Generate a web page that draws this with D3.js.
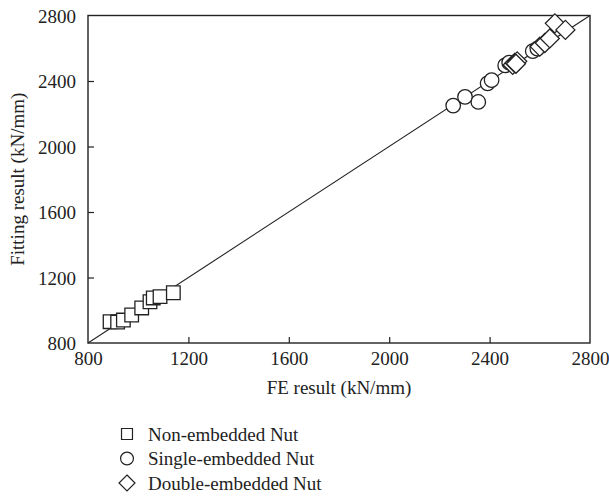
<!DOCTYPE html>
<html>
<head>
<meta charset="utf-8">
<script src="https://cdn.jsdelivr.net/npm/d3@7"></script>
<style>
  body { margin: 0; background: #fff; }
  svg text { font-family: "Liberation Serif", "DejaVu Serif", serif; fill: #222; }
</style>
</head>
<body>
<div id="chart"></div>
<script>
// FE result vs fitting result (kN/mm)
const seriesNames = ['Non-embedded Nut', 'Single-embedded Nut', 'Double-embedded Nut'];
const ticks = [800, 1200, 1600, 2000, 2400, 2800];

const nonEmbedded = [
  [888, 930], [918, 928], [941, 940], [974, 971], [1014, 1014],
  [1047, 1052], [1060, 1075], [1087, 1083], [1140, 1107]
];
const singleEmbedded = [
  [2255, 2250], [2302, 2303], [2355, 2272], [2392, 2386], [2408, 2405],
  [2462, 2495], [2478, 2512], [2498, 2500], [2572, 2582], [2590, 2598]
];
const doubleEmbedded = [
  [2492, 2498], [2500, 2510], [2510, 2520], [2505, 2505],
  [2600, 2610], [2620, 2632], [2640, 2660], [2660, 2752], [2702, 2712]
];

const width = 609, height = 498;
const margin = { top: 15.5, right: 19, bottom: 155, left: 88 };
const w = width - margin.left - margin.right;
const h = height - margin.top - margin.bottom;

const svg = d3.select('#chart').append('svg')
  .attr('width', width)
  .attr('height', height);

const g = svg.append('g')
  .attr('transform', `translate(${margin.left}, ${margin.top})`);

const x = d3.scaleLinear().domain([800, 2800]).range([0, w]);
const y = d3.scaleLinear().domain([800, 2800]).range([h, 0]);

const stroke = '#222';
const fontSize = '19px';

// axes with inward ticks
const xAxis = g.append('g')
  .attr('transform', `translate(0, ${h})`)
  .call(d3.axisBottom(x).tickValues(ticks).tickSize(-6).tickPadding(9).tickFormat(d3.format('d')));
const yAxis = g.append('g')
  .call(d3.axisLeft(y).tickValues(ticks).tickSize(-6).tickPadding(12).tickFormat(d3.format('d')));

[xAxis, yAxis].forEach(a => {
  a.select('.domain').remove();
  a.selectAll('line').attr('stroke', stroke).attr('stroke-width', 1.2);
  a.selectAll('text').style('font-size', fontSize).attr('fill', '#222');
});
// no tick marks at the corners
xAxis.selectAll('.tick').filter(d => d === 800 || d === 2800).select('line').remove();
yAxis.selectAll('.tick').filter(d => d === 800 || d === 2800).select('line').remove();
yAxis.selectAll('text').attr('dy', '0.35em');

g.append('rect')
  .attr('width', w).attr('height', h)
  .attr('fill', 'none').attr('stroke', stroke).attr('stroke-width', 1.4);

// 1:1 line
g.append('line')
  .attr('x1', x(800)).attr('y1', y(800))
  .attr('x2', x(2800)).attr('y2', y(2800))
  .attr('stroke', stroke).attr('stroke-width', 1.1);

// square rotated by 45 degrees
const diamond = r => `M0,${-r}L${r},0L0,${r}L${-r},0Z`;

const sym = {
  square: d3.symbol().type(d3.symbolSquare).size(185)(),
  circle: d3.symbol().type(d3.symbolCircle).size(165)(),
  diamond: diamond(9.5)
};

function drawSeries(data, path) {
  g.append('g').selectAll('path')
    .data(data)
    .join('path')
    .attr('d', path)
    .attr('transform', d => `translate(${x(d[0])}, ${y(d[1])})`)
    .attr('fill', '#fff')
    .attr('stroke', stroke)
    .attr('stroke-width', 1.3);
}

drawSeries(nonEmbedded, sym.square);
drawSeries(singleEmbedded, sym.circle);
drawSeries(doubleEmbedded, sym.diamond);

// axis titles
svg.append('text')
  .attr('x', margin.left + w / 2)
  .attr('y', 394)
  .attr('text-anchor', 'middle')
  .style('font-size', fontSize)
  .text('FE result (kN/mm)');

svg.append('text')
  .attr('transform', `translate(24, ${margin.top + h / 2}) rotate(-90)`)
  .attr('text-anchor', 'middle')
  .style('font-size', fontSize)
  .text('Fitting result (kN/mm)');

// legend
const legendSyms = [
  d3.symbol().type(d3.symbolSquare).size(120)(),
  d3.symbol().type(d3.symbolCircle).size(130)(),
  diamond(8)
];
const legend = svg.append('g').attr('transform', 'translate(127, 434)');
seriesNames.forEach((name, i) => {
  const row = legend.append('g').attr('transform', `translate(0, ${i * 24.5})`);
  row.append('path')
    .attr('d', legendSyms[i])
    .attr('fill', '#fff')
    .attr('stroke', stroke)
    .attr('stroke-width', 1.2);
  row.append('text')
    .attr('x', 21)
    .attr('dy', '0.35em')
    .style('font-size', fontSize)
    .text(name);
});
</script>
</body>
</html>
